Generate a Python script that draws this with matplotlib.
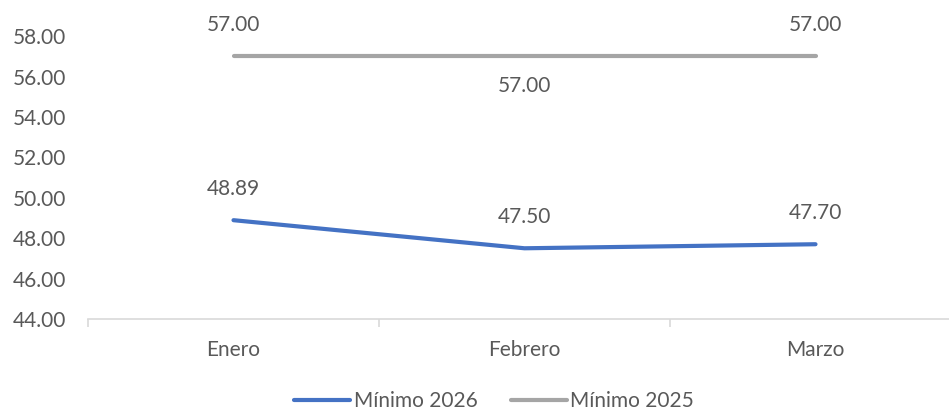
import matplotlib.pyplot as plt
from matplotlib.ticker import FixedLocator

# Data
meses = ['Enero', 'Febrero', 'Marzo']
minimo_2026 = [48.89, 47.50, 47.70]
minimo_2025 = [57.00, 57.00, 57.00]
y_ticks = [44, 46, 48, 50, 52, 54, 56, 58]

plt.rcParams['font.family'] = ['Lato', 'DejaVu Sans']
text_color = '#595959'
fs = 15

fig = plt.figure(figsize=(9.49, 4.12), dpi=100)
# axes runs past the right edge, like the original
ax = fig.add_axes([88 / 949, (412 - 319) / 412, 873 / 949, (319 - 26) / 412])

x = list(range(len(meses)))
ax.plot(x, minimo_2026, color='#4472C4', lw=3, solid_capstyle='round', label='Mínimo 2026')
ax.plot(x, minimo_2025, color='#A5A5A5', lw=3, solid_capstyle='round', label='Mínimo 2025')

# data labels
for i, v in enumerate(minimo_2026):
    ax.annotate(f'{v:.2f}', (i, v), xytext=(0, 31), textcoords='offset pixels',
                ha='center', va='center', fontsize=fs, color=text_color)
offsets_2025 = [31, -30, 31]
for i, v in enumerate(minimo_2025):
    ax.annotate(f'{v:.2f}', (i, v), xytext=(0, offsets_2025[i]), textcoords='offset pixels',
                ha='center', va='center', fontsize=fs, color=text_color, annotation_clip=False)

ax.set_xlim(-0.5, 2.5)
ax.set_ylim(44, 58.5)
ax.set_yticks(y_ticks)
ax.set_yticklabels([f'{t:.2f}' for t in y_ticks])
ax.set_xticks(x)
ax.set_xticklabels(meses)
ax.xaxis.set_minor_locator(FixedLocator([-0.5, 0.5, 1.5, 2.5]))

for s in ['top', 'right', 'left']:
    ax.spines[s].set_visible(False)
ax.spines['bottom'].set_color('#D9D9D9')
ax.spines['bottom'].set_linewidth(1.2)

ax.tick_params(axis='y', length=0, pad=16, labelsize=fs, labelcolor=text_color)
ax.tick_params(axis='x', which='major', length=0, pad=15, labelsize=fs, labelcolor=text_color)
ax.tick_params(axis='x', which='minor', length=6, width=1.2, color='#D9D9D9')

leg = fig.legend(loc='center', bbox_to_anchor=(494 / 949, 1 - 401 / 412), ncol=2,
                 frameon=False, fontsize=fs, handlelength=2.7, handletextpad=0.15,
                 columnspacing=1.6)
for t in leg.get_texts():
    t.set_color(text_color)

fig.savefig('out.png', dpi=100)
